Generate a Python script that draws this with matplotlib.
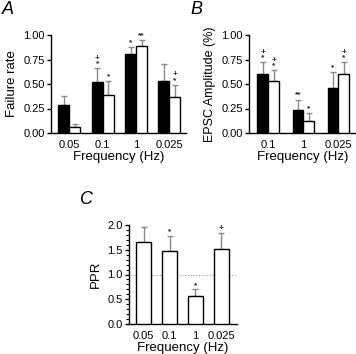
import matplotlib
matplotlib.use("Agg")
import matplotlib.pyplot as plt
import numpy as np

plt.rcParams['font.family'] = ['Liberation Sans', 'DejaVu Sans']

# Panel A: failure rate
a_freqs = ["0.05", "0.1", "1", "0.025"]
a_black = [0.29, 0.52, 0.81, 0.53]
a_black_err = [0.09, 0.14, 0.07, 0.17]
a_white = [0.06, 0.39, 0.89, 0.37]
a_white_err = [0.03, 0.14, 0.06, 0.12]
a_black_marks = ["", "+\n*", "*", ""]
a_white_marks = ["", "*", "**", "+\n*"]

# Panel B: EPSC amplitude
b_freqs = ["0.1", "1", "0.025"]
b_black = [0.60, 0.23, 0.46]
b_black_err = [0.12, 0.11, 0.16]
b_white = [0.53, 0.12, 0.60]
b_white_err = [0.11, 0.08, 0.12]
b_black_marks = ["+\n*", "**", "*"]
b_white_marks = ["+\n*", "*", "+\n*"]

# Panel C: PPR
c_freqs = ["0.05", "0.1", "1", "0.025"]
c_vals = [1.65, 1.47, 0.56, 1.52]
c_err = [0.30, 0.31, 0.14, 0.32]
c_marks = ["", "*", "*", "+"]

W, H = 356, 354
fig = plt.figure(figsize=(W / 100, H / 100), dpi=100)

def ax_px(l, r, t, b):
    return fig.add_axes([l / W, 1 - b / H, (r - l) / W, (b - t) / H])

ERRC = '#8a8a8a'
TICK_FS = 8
LAB_FS = 9.5

def style(ax):
    for s in ['top', 'right']:
        ax.spines[s].set_visible(False)
    for s in ['left', 'bottom']:
        ax.spines[s].set_linewidth(1.0)
    ax.tick_params(axis='y', length=3, width=1, labelsize=TICK_FS, pad=1.5)
    ax.tick_params(axis='x', length=0, labelsize=TICK_FS, pad=5)

def bars(ax, x, vals, errs, color, width, marks, mfs=6):
    ax.bar(x, vals, width, color=color, edgecolor='black', linewidth=1.0, zorder=3)
    ax.errorbar(x, vals, yerr=[np.zeros(len(vals)), errs], fmt='none',
                ecolor=ERRC, elinewidth=1.0, capsize=2.5, capthick=1.0, zorder=2)
    for xi, v, e, m in zip(x, vals, errs, marks):
        if m:
            ax.text(xi, v + e + 0.01, m, ha='center', va='bottom', fontsize=mfs,
                    linespacing=0.75, fontweight='bold', color='#222222')

# Panel A
axA = ax_px(51, 186, 35, 133)
xa = np.arange(len(a_freqs))
wa = 0.33
bars(axA, xa - wa / 2, a_black, a_black_err, 'black', wa, a_black_marks)
bars(axA, xa + wa / 2, a_white, a_white_err, 'white', wa, a_white_marks)
axA.set_xlim(-0.55, 3.5)
axA.set_ylim(0, 1.0)
axA.set_yticks([0, 0.25, 0.5, 0.75, 1.0])
axA.set_yticklabels(["0.00", "0.25", "0.50", "0.75", "1.00"])
axA.set_xticks(xa)
axA.set_xticklabels(a_freqs)
axA.set_ylabel("Failure rate", fontsize=LAB_FS, labelpad=4)
axA.set_xlabel("Frequency (Hz)", fontsize=LAB_FS, labelpad=1)
style(axA)

# Panel B
axB = ax_px(249, 356, 35, 133)
xb = np.arange(len(b_freqs))
wb = 0.31
bars(axB, xb - wb / 2, b_black, b_black_err, 'black', wb, b_black_marks)
bars(axB, xb + wb / 2, b_white, b_white_err, 'white', wb, b_white_marks)
axB.set_xlim(-0.55, 2.5)
axB.set_ylim(0, 1.0)
axB.set_yticks([0, 0.25, 0.5, 0.75, 1.0])
axB.set_yticklabels(["0.00", "0.25", "0.50", "0.75", "1.00"])
axB.set_xticks(xb)
axB.set_xticklabels(b_freqs)
axB.set_ylabel("EPSC Amplitude (%)", fontsize=9, labelpad=4)
axB.set_xlabel("Frequency (Hz)", fontsize=LAB_FS, labelpad=1)
style(axB)

# Panel C
axC = ax_px(129, 237, 225, 324)
xc = np.arange(len(c_freqs))
bars(axC, xc, c_vals, c_err, 'white', 0.6, c_marks)
axC.axhline(1.0, color='#999999', linestyle=(0, (1, 1.5)), linewidth=0.8, zorder=1)
axC.set_xlim(-0.56, 3.6)
axC.set_ylim(0, 2.0)
axC.set_yticks([0, 0.5, 1.0, 1.5, 2.0])
axC.set_yticklabels(["0.0", "0.5", "1.0", "1.5", "2.0"])
axC.set_yticks(np.arange(0, 2.01, 0.1), minor=True)
axC.tick_params(axis='y', which='minor', length=2, width=0.8)
axC.set_xticks(xc)
axC.set_xticklabels(c_freqs)
axC.set_ylabel("PPR", fontsize=LAB_FS, labelpad=4)
axC.set_xlabel("Frequency (Hz)", fontsize=LAB_FS, labelpad=1)
style(axC)

fig.text(2 / W, 1 - 9 / H, "A", fontsize=13, style='italic', va='center', ha='left')
fig.text(190 / W, 1 - 9 / H, "B", fontsize=13, style='italic', va='center', ha='left')
fig.text(80 / W, 1 - 199 / H, "C", fontsize=13, style='italic', va='center', ha='left')

fig.savefig("out.png", dpi=100)
